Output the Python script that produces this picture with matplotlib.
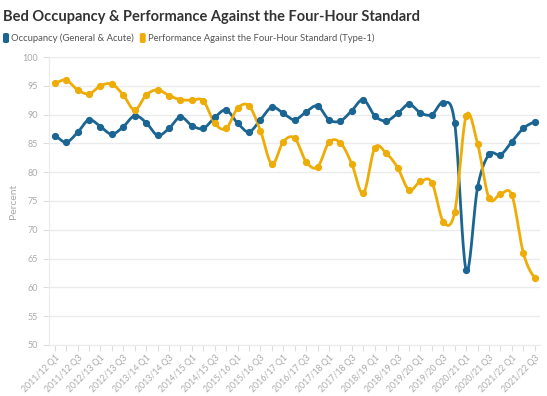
import matplotlib
matplotlib.use("Agg")
import matplotlib.pyplot as plt
from matplotlib.patches import FancyBboxPatch
import numpy as np

years = ["2011/12", "2012/13", "2013/14", "2014/15", "2015/16", "2016/17",
         "2017/18", "2018/19", "2019/20", "2020/21", "2021/22"]
quarters = [f"{y} Q{q}" for y in years for q in (1, 2, 3, 4)][:43]

occupancy = [86.3, 85.2, 86.9, 89.1, 87.9, 86.6, 87.9, 89.8, 88.6, 86.4,
             87.6, 89.6, 88.1, 87.6, 89.5, 90.8, 88.5, 87.0, 89.1, 91.3,
             90.2, 89.1, 90.5, 91.5, 89.1, 88.9, 90.7, 92.6, 89.8, 88.9,
             90.2, 91.8, 90.3, 90.0, 92.1, 88.5, 63.0, 77.4, 83.1, 83.0,
             85.3, 87.6, 88.7]
four_hour = [95.5, 96.0, 94.3, 93.6, 95.0, 95.3, 93.4, 90.8, 93.4, 94.3,
             93.3, 92.6, 92.5, 92.4, 88.5, 87.6, 91.1, 91.5, 87.2, 81.4,
             85.3, 85.9, 81.8, 80.9, 85.2, 85.1, 81.4, 76.3, 84.2, 83.3,
             80.8, 76.9, 78.4, 78.2, 71.4, 73.1, 89.8, 84.9, 75.5, 76.2,
             76.0, 66.0, 61.7]

BLUE = "#1b6593"
ORANGE = "#eeac06"
GRID = "#ebebeb"
LABEL = "#aaaaaa"
FONT = "Lato"


def catmull_rom(y, n=20):
    # smooth path through the points, like the original's curved lines
    p = np.concatenate([[y[0]], y, [y[-1]]]).astype(float)
    xs, ys = [], []
    t = np.linspace(0, 1, n, endpoint=False)
    for i in range(1, len(p) - 2):
        p0, p1, p2, p3 = p[i - 1], p[i], p[i + 1], p[i + 2]
        seg = 0.5 * ((2 * p1) + (-p0 + p2) * t + (2 * p0 - 5 * p1 + 4 * p2 - p3) * t ** 2
                     + (-p0 + 3 * p1 - 3 * p2 + p3) * t ** 3)
        xs.extend(i - 1 + t)
        ys.extend(seg)
    xs.append(len(y) - 1)
    ys.append(y[-1])
    return np.array(xs), np.array(ys)


fig = plt.figure(figsize=(5.47, 3.96), dpi=100)
ax = fig.add_axes([0.0896, 0.129, 0.8974, 0.727])

x = np.arange(len(quarters))
for vals, col in ((occupancy, BLUE), (four_hour, ORANGE)):
    sx, sy = catmull_rom(vals)
    ax.plot(sx, sy, color=col, lw=2.0, solid_capstyle="round", zorder=3)
    ax.plot(x, vals, "o", color=col, ms=4.2, zorder=4)

ax.set_xlim(-0.5, 42.45)
ax.set_ylim(50, 100)
ax.set_yticks(range(50, 101, 5))
ax.set_yticklabels([str(v) for v in range(50, 101, 5)], fontsize=6.5, color=LABEL, family=FONT)
ax.set_xticks(x)
ax.set_xticklabels([q if i % 2 == 0 else "" for i, q in enumerate(quarters)],
                   rotation=45, ha="right", rotation_mode="anchor",
                   fontsize=6.3, color=LABEL, family=FONT)
ax.tick_params(axis="x", length=4, color="#dddddd", pad=2)
ax.tick_params(axis="y", length=4, color="#dddddd", pad=4)
ax.grid(axis="y", color=GRID, lw=1)
ax.set_axisbelow(True)
for s in ("top", "right"):
    ax.spines[s].set_visible(False)
ax.spines["left"].set_color(GRID)
ax.spines["bottom"].set_color(GRID)
ax.set_ylabel("Percent", fontsize=7.5, color=LABEL, family=FONT, labelpad=3)

fig.text(0.006, 0.975, "Bed Occupancy & Performance Against the Four-Hour Standard",
         fontsize=10.5, fontweight="bold", color="#333333", family=FONT, va="top")

# legend
items = [("Occupancy (General & Acute)", BLUE),
         ("Performance Against the Four-Hour Standard (Type-1)", ORANGE)]
lx = 3
for label, col in items:
    fig.patches.append(FancyBboxPatch((lx / 547, 1 - 43 / 396), 6 / 547, 10 / 396,
                                      boxstyle="round,pad=0,rounding_size=0.004",
                                      transform=fig.transFigure, fc=col, ec="none"))
    t = fig.text((lx + 8) / 547, 1 - 38 / 396, label, fontsize=6.8, color="#555555",
                 family=FONT, va="center")
    fig.canvas.draw()
    bb = t.get_window_extent()
    lx = bb.x1 + 6

fig.savefig("out.png", dpi=100)
